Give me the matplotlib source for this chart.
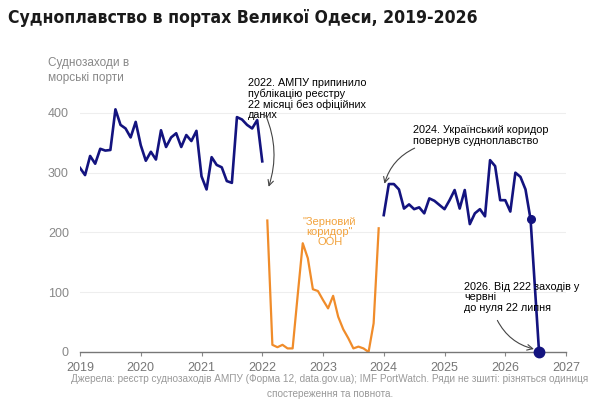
import matplotlib
matplotlib.use("Agg")
import matplotlib.pyplot as plt
import numpy as np

plt.rcParams['font.family'] = ['Liberation Sans', 'DejaVu Sans']

# --- дані (судозаходи на місяць) ---
# реєстр АМПУ, січень 2019 - січень 2022
ampu_start = (2019, 1)
ampu_calls = [308, 296, 328, 315, 340, 337, 338, 406, 380, 374, 359, 385, 346,
              320, 335, 322, 371, 343, 359, 366, 343, 363, 353, 370, 294, 272,
              326, 313, 309, 286, 283, 393, 389, 380, 374, 388, 319]

# IMF PortWatch під час "Зернового коридору", лютий 2022 - грудень 2023
grain_start = (2022, 2)
grain_calls = [220, 12, 8, 12, 6, 6, 95, 182, 157, 105, 102, 87, 73, 94, 59,
               38, 23, 6, 9, 6, 0, 48, 207]

# Український коридор, січень 2024 - червень 2026
corridor_start = (2024, 1)
corridor_calls = [229, 281, 281, 272, 240, 247, 239, 242, 232, 257, 253, 246,
                  239, 254, 271, 240, 271, 214, 232, 239, 227, 321, 311, 254,
                  254, 235, 300, 293, 272, 222]
# 22 липня 2026 - нуль
last_day = (2026, 7, 22)
last_value = 0

year_ticks = list(range(2019, 2028))
y_ticks = [0, 100, 200, 300, 400]


def month_axis(start, n):
    y, m = start
    return np.array([y + (m - 1 + i) / 12 for i in range(n)])


x_ampu = month_axis(ampu_start, len(ampu_calls))
x_grain = month_axis(grain_start, len(grain_calls))
x_corr = month_axis(corridor_start, len(corridor_calls))
x_last = last_day[0] + (last_day[1] - 1 + (last_day[2] - 1) / 31) / 12

navy = '#13137f'
orange = '#f08c2a'

fig = plt.figure(figsize=(6, 4.16), dpi=100)
ax = fig.add_axes([80 / 600, 1 - 352 / 416, 486 / 600, 257 / 416])

ax.plot(x_ampu, ampu_calls, color=navy, lw=1.9, solid_joinstyle='round')
ax.plot(x_grain, grain_calls, color=orange, lw=1.6, solid_joinstyle='round')
ax.plot(np.append(x_corr, x_last), corridor_calls + [last_value],
        color=navy, lw=1.9, solid_joinstyle='round')
ax.plot(x_corr[-1], corridor_calls[-1], 'o', color=navy, ms=5.5)
ax.plot(x_last, last_value, 'o', color=navy, ms=7.5, clip_on=False, zorder=5)

ax.set_xlim(2019, 2027)
ax.set_ylim(0, 430)
ax.set_xticks(year_ticks)
ax.set_yticks(y_ticks)
ax.tick_params(axis='x', colors='#888888', labelsize=9, length=3, width=0.8, pad=4,
               labelcolor='#777777')
ax.tick_params(axis='y', length=0, labelsize=9, labelcolor='#888888', pad=8)
for y in y_ticks[1:]:
    ax.axhline(y, color='#eeeeee', lw=0.8, zorder=0)
for s in ['top', 'right', 'left']:
    ax.spines[s].set_visible(False)
ax.spines['bottom'].set_color('#777777')
ax.spines['bottom'].set_linewidth(1.0)

arrow = dict(arrowstyle='->', color='#444444', lw=0.8)

ax.annotate('2022. АМПУ припинило\nпублікацію реєстру\n22 місяці без офіційних\nданих',
            xy=(2022.09, 272), xytext=(2021.76, 458), va='top', ha='left',
            fontsize=7.8, linespacing=1.02, annotation_clip=False)
ax.annotate('', xy=(2022.09, 272), xytext=(2022.04, 400),
            arrowprops=dict(connectionstyle='arc3,rad=-0.2', **arrow),
            annotation_clip=False)

ax.annotate('2024. Український коридор\nповернув судноплавство',
            xy=(2024.48, 379), va='top', ha='left', fontsize=7.8,
            linespacing=1.02, annotation_clip=False)
ax.annotate('', xy=(2024.0, 277), xytext=(2024.55, 343),
            arrowprops=dict(connectionstyle='arc3,rad=0.25', **arrow))

ax.text(2023.11, 226, '"Зерновий\nкоридор"\nООН', color='#f2a23c', fontsize=8,
        ha='center', va='top', linespacing=1.0)

ax.annotate('2026. Від 222 заходів у\nчервні\nдо нуля 22 липня',
            xy=(2025.32, 117), va='top', ha='left', fontsize=7.8,
            linespacing=1.05, annotation_clip=False)
ax.annotate('', xy=(x_last - 0.04, 4), xytext=(2025.85, 57),
            arrowprops=dict(connectionstyle='arc3,rad=0.25', **arrow))

fig.text(8 / 600, 1 - 18 / 416, 'Судноплавство в портах Великої Одеси, 2019-2026',
         fontsize=12.6, fontweight='bold', fontstretch='condensed', va='center',
         ha='left', family=['DejaVu Sans'], color='#1a1a1a')
fig.text(48 / 600, 1 - 57 / 416, 'Суднозаходи в\nморські порти', fontsize=8.5,
         color='#888888', va='top', ha='left', linespacing=1.3)
fig.text(330 / 600, 1 - 374 / 416,
         'Джерела: реєстр суднозаходів АМПУ (Форма 12, data.gov.ua); IMF PortWatch. '
         'Ряди не зшиті: різняться одиниця\nспостереження та повнота.',
         fontsize=7.2, color='#999999', ha='center', va='top', linespacing=1.6)

fig.savefig('out.png', dpi=100)
